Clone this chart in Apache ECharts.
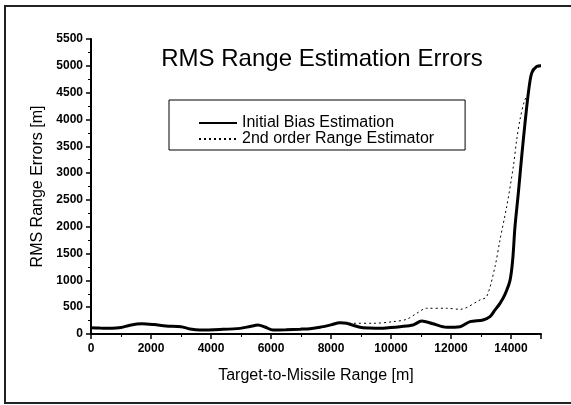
<!DOCTYPE html>
<html>
<head>
<meta charset="utf-8">
<script src="https://cdn.jsdelivr.net/npm/echarts@6/dist/echarts.min.js"></script>
<style>
  html, body { margin: 0; padding: 0; background: #fff; }
  #chart { width: 571px; height: 405px; }
</style>
</head>
<body>
<div id="chart"></div>
<script>
// values, [range m, error m]
const biasRange = [0, 300, 700, 1000, 1300, 1700, 2100, 2500, 3000, 3300, 3633, 4300, 4967, 5300, 5567, 5800, 6067, 6500, 6967, 7300, 7633, 8000, 8300, 8522, 8967, 9300, 9633, 10000, 10300, 10733, 11022, 11400, 11856, 12300, 12633, 13067, 13300, 13467, 13633, 13800, 13967, 14056, 14133, 14244, 14356, 14467, 14578, 14689, 14856, 15000];
const biasError = [115, 110, 105, 120, 165, 190, 175, 150, 135, 95, 75, 85, 105, 140, 168, 130, 75, 80, 90, 100, 125, 170, 210, 200, 125, 110, 105, 120, 137, 168, 242, 190, 125, 137, 230, 261, 323, 448, 572, 740, 1000, 1380, 2000, 2625, 3308, 3930, 4490, 4863, 4988, 5000];

const estRange = [8600, 8767, 9433, 10067, 10522, 10856, 11189, 11856, 12300, 12967, 13189, 13467, 13633, 13856, 14078, 14189, 14300, 14450, 14578, 14689, 14856, 15000];
const estError = [200, 200, 200, 230, 274, 386, 480, 480, 460, 634, 696, 1256, 1754, 2375, 3122, 3619, 4000, 4350, 4490, 4863, 4988, 5000];

const seriesNames = ['Initial Bias Estimation', '2nd order Range Estimator'];

const zip = (xs, ys) => xs.map((x, i) => [x, ys[i]]);

const chart = echarts.init(document.getElementById('chart'));

const tickFont = { fontFamily: 'Liberation Sans', fontWeight: 'bold', fontSize: 12, color: '#000' };
const plain = v => String(v);

chart.setOption({
    animation: false,
    backgroundColor: '#fff',
    title: {
        text: 'RMS Range Estimation Errors',
        left: 317,
        top: 42,
        textAlign: 'center',
        textStyle: { fontFamily: 'Liberation Sans', fontWeight: 'normal', fontSize: 24, color: '#000' }
    },
    legend: {
        orient: 'vertical',
        left: 169,
        top: 100,
        padding: [15, 31, 3, 29],
        itemWidth: 38,
        itemHeight: 16,
        itemGap: 0,
        borderColor: '#000',
        borderWidth: 1,
        itemStyle: { opacity: 0 },
        textStyle: { fontFamily: 'Liberation Sans', fontSize: 16, lineHeight: 16, color: '#000' },
        data: seriesNames
    },
    grid: { left: 91, right: 30, top: 39, bottom: 71 },
    xAxis: {
        type: 'value',
        min: 0,
        max: 15000,
        interval: 2000,
        name: 'Target-to-Missile Range [m]',
        nameLocation: 'middle',
        nameGap: 34,
        nameTextStyle: { fontFamily: 'Liberation Sans', fontSize: 16, color: '#000' },
        axisLine: { lineStyle: { color: '#000', width: 2 } },
        axisTick: { length: 5, lineStyle: { color: '#000', width: 1.5 } },
        minorTick: { show: true, splitNumber: 2, length: 3, lineStyle: { color: '#000' } },
        axisLabel: Object.assign({ margin: 9, showMaxLabel: false, formatter: plain }, tickFont),
        splitLine: { show: false }
    },
    yAxis: {
        type: 'value',
        min: 0,
        max: 5500,
        interval: 500,
        name: 'RMS Range Errors [m]',
        nameLocation: 'middle',
        nameGap: 45,
        nameTextStyle: { fontFamily: 'Liberation Sans', fontSize: 16, color: '#000' },
        axisLine: { show: true, lineStyle: { color: '#000', width: 2 } },
        axisTick: { show: true, length: 5, lineStyle: { color: '#000', width: 1.5 } },
        minorTick: { show: true, splitNumber: 2, length: 3, lineStyle: { color: '#000' } },
        axisLabel: Object.assign({ margin: 8, formatter: plain }, tickFont),
        splitLine: { show: false }
    },
    series: [
        {
            name: seriesNames[1],
            type: 'line',
            symbol: 'none',
            smooth: 0.3,
            z: 2,
            lineStyle: { color: '#000', width: 1, type: [2, 3] },
            itemStyle: { color: '#000' },
            data: zip(estRange, estError)
        },
        {
            name: seriesNames[0],
            type: 'line',
            symbol: 'none',
            smooth: 0.3,
            z: 3,
            lineStyle: { color: '#000', width: 3 },
            itemStyle: { color: '#000' },
            data: zip(biasRange, biasError)
        }
    ],
    graphic: [{
        type: 'rect',
        shape: { x: 5, y: 6, width: 600, height: 397 },
        style: { fill: null, stroke: '#222', lineWidth: 2 },
        silent: true
    }]
});
</script>
</body>
</html>
